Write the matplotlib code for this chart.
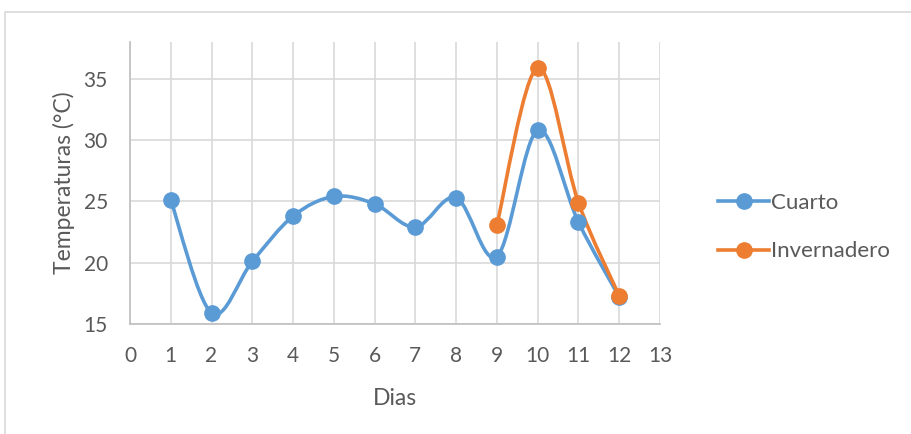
import matplotlib.pyplot as plt
import numpy as np
from matplotlib.path import Path
from matplotlib.patches import PathPatch, Rectangle
from matplotlib.lines import Line2D

dias_cuarto = [1, 2, 3, 4, 5, 6, 7, 8, 9, 10, 11, 12]
temp_cuarto = [25.1, 15.9, 20.1, 23.8, 25.4, 24.8, 22.9, 25.3, 20.5, 30.8, 23.3, 17.2]
dias_inv = [9, 10, 11, 12]
temp_inv = [23.1, 35.9, 24.9, 17.3]

blue = "#5B9BD5"
orange = "#ED7D31"
gray_txt = "#595959"


def smooth_path(x, y):
    """Bezier path through the points, like the smoothed lines of Excel"""
    pts = np.column_stack([x, y]).astype(float)
    n = len(pts)
    verts = [pts[0]]
    codes = [Path.MOVETO]
    for i in range(n - 1):
        p0 = pts[i - 1] if i > 0 else pts[i]
        p1 = pts[i]
        p2 = pts[i + 1]
        p3 = pts[i + 2] if i + 2 < n else pts[i + 1]
        c1 = p1 + (p2 - p0) / 6
        c2 = p2 - (p3 - p1) / 6
        verts += [c1, c2, p2]
        codes += [Path.CURVE4] * 3
    return Path(verts, codes)


plt.rcParams['font.family'] = ['Lato', 'DejaVu Sans']

fig = plt.figure(figsize=(9.11, 4.34), dpi=100)
fig.patches.append(Rectangle((5 / 911, -0.1), 1.1, 1 - 12 / 434 + 0.1,
                             transform=fig.transFigure, fill=False,
                             edgecolor="#D9D9D9", linewidth=1.2))

ax = fig.add_axes([130 / 911, 1 - 324 / 434, 530 / 911, 282 / 434])

for xs, ys, col in [(dias_cuarto, temp_cuarto, blue), (dias_inv, temp_inv, orange)]:
    ax.add_patch(PathPatch(smooth_path(xs, ys), facecolor="none",
                           edgecolor=col, linewidth=2.6, zorder=3))
    ax.plot(xs, ys, linestyle="none", marker="o", markersize=11,
            color=col, zorder=4)

ax.set_xlim(0, 13)
ax.set_ylim(15, 38)
ax.set_xticks(range(0, 14))
ax.set_yticks([15, 20, 25, 30, 35])
ax.grid(True, color="#D9D9D9", linewidth=1.2)
ax.set_axisbelow(True)
for s in ["top", "right"]:
    ax.spines[s].set_visible(False)
for s in ["left", "bottom"]:
    ax.spines[s].set_color("#BFBFBF")
    ax.spines[s].set_linewidth(1.2)
ax.tick_params(length=0, labelsize=15, labelcolor=gray_txt)
ax.tick_params(axis="x", pad=16)
ax.tick_params(axis="y", pad=16)

ax.set_xlabel("Dias", fontsize=16.5, color=gray_txt, labelpad=16)
ax.set_ylabel("Temperaturas (°C)", fontsize=16.5, color=gray_txt, labelpad=6)

handles = [Line2D([], [], color=blue, linewidth=2.6, marker="o", markersize=11),
           Line2D([], [], color=orange, linewidth=2.6, marker="o", markersize=11)]
fig.legend(handles, ["Cuarto", "Invernadero"], loc="center left",
           bbox_to_anchor=(698 / 911, 1 - 227 / 434), frameon=False,
           fontsize=16, labelcolor=gray_txt, handlelength=2.3,
           handletextpad=0.1, labelspacing=1.3)

fig.savefig("out.png", dpi=100)
